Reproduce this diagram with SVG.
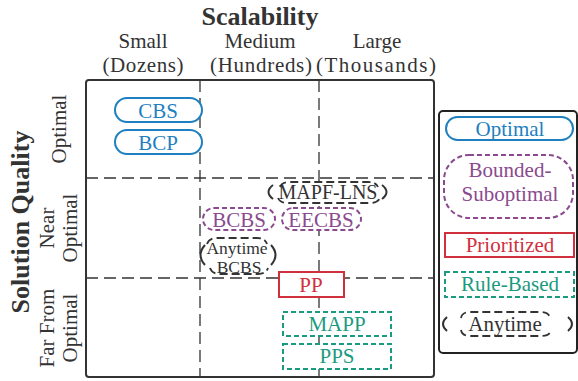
<svg xmlns="http://www.w3.org/2000/svg" width="578" height="381" viewBox="0 0 578 381">
<style>
text{font-family:"Liberation Serif","DejaVu Serif","Times New Roman",serif;font-size:21px;fill:#333;text-anchor:middle}
.b{font-weight:bold;font-size:26px;fill:#333}
.grid{stroke:#333;stroke-width:1.3;stroke-dasharray:12 6;fill:none}
.opt{fill:#fff;stroke:#1f7fbf;stroke-width:2}
.optt{fill:#1f7fbf}
.bs{fill:#fff;stroke:#8b4a8f;stroke-width:2;stroke-dasharray:5 3}
.bst{fill:#8b4a8f}
.pr{fill:#fff;stroke:#d0303d;stroke-width:2}
.prt{fill:#d0303d}
.rb{fill:#fff;stroke:#1a9a80;stroke-width:2;stroke-dasharray:5 3}
.rbt{fill:#1a9a80}
.any{fill:none;stroke:#333;stroke-width:1.8;stroke-dasharray:8 4}
.par{fill:none;stroke:#333;stroke-width:2}
</style>
<rect width="578" height="381" fill="#fff"/>
<text class="b" x="260" y="25">Scalability</text>
<text x="143" y="48">Small</text>
<text x="143" y="72" textLength="81" lengthAdjust="spacing">(Dozens)</text>
<text x="260" y="48">Medium</text>
<text x="261" y="72" textLength="102" lengthAdjust="spacing">(Hundreds)</text>
<text x="377" y="48">Large</text>
<text x="376" y="72" textLength="120" lengthAdjust="spacing">(Thousands)</text>
<text class="b" transform="translate(29,222) rotate(-90)">Solution Quality</text>
<text transform="translate(66,129) rotate(-90)">Optimal</text>
<text transform="translate(54,228) rotate(-90)">Near</text>
<text transform="translate(77,228) rotate(-90)">Optimal</text>
<text transform="translate(54,328) rotate(-90)">Far From</text>
<text transform="translate(77,328) rotate(-90)">Optimal</text>
<g id="connectors">
<rect x="86" y="80" width="348" height="297" rx="3" fill="none" stroke="#333" stroke-width="2"/>
<line class="grid" x1="200" y1="80" x2="200" y2="377"/>
<line class="grid" x1="319" y1="80" x2="319" y2="377"/>
<line class="grid" x1="86" y1="178" x2="434" y2="178"/>
<line class="grid" x1="86" y1="278" x2="434" y2="278"/>
</g>
<g id="CBS"><rect class="opt" x="115" y="98" width="87" height="24" rx="12"/><text class="optt" x="158" y="117.5">CBS</text></g>
<g id="BCP"><rect class="opt" x="115" y="130" width="87" height="24" rx="12"/><text class="optt" x="158" y="149.5">BCP</text></g>
<g id="MAPF-LNS"><rect x="276" y="183" width="104" height="19" fill="#fff"/>
<path class="any" d="M280,187 Q282,182 290,182 L368,182 Q376,182 378,187"/>
<path class="any" d="M278,198 Q280,203 288,203 L370,203 Q378,203 380,198"/>
<path class="par" d="M273,185 Q264,192 273,199"/><path class="par" d="M382,185 Q391,192 382,199"/>
<text x="328" y="199" style="font-size:20px">MAPF-LNS</text></g>
<g id="BCBS"><rect class="bs" x="203" y="208" width="72" height="22" rx="11"/><text class="bst" x="239" y="227">BCBS</text></g>
<g id="EECBS"><rect class="bs" x="282" y="208" width="79" height="22" rx="11"/><text class="bst" x="321" y="227">EECBS</text></g>
<g id="Anytime-BCBS"><rect x="205" y="240" width="64" height="33" fill="#fff"/>
<path class="any" d="M207,244 Q209,238 217,238 L257,238 Q265,238 267,244"/>
<path class="any" d="M210,268 Q212,274 220,274 L258,274 Q266,274 268,268"/>
<path class="par" d="M205,245 Q196,255 205,265"/><path class="par" d="M271,245 Q280,255 271,265"/>
<text x="237" y="254" style="font-size:17.5px">Anytime</text><text x="239" y="273" style="font-size:17.5px">BCBS</text></g>
<g id="PP"><rect class="pr" x="279" y="272" width="65" height="25"/><text class="prt" x="311" y="291.5">PP</text></g>
<g id="MAPP"><rect class="rb" x="283" y="312" width="108" height="24"/><text class="rbt" x="337" y="331">MAPP</text></g>
<g id="PPS"><rect class="rb" x="283" y="344" width="108" height="25"/><text class="rbt" x="337" y="363">PPS</text></g>
<g id="legend">
<rect x="439" y="111" width="138" height="242" rx="4" fill="#fff" stroke="#222" stroke-width="2"/>
<rect class="opt" x="446" y="117" width="127" height="23" rx="11.5"/><text class="optt" x="510" y="136">Optimal</text>
<rect class="bs" x="444" y="155" width="129" height="63" rx="25"/><text class="bst" x="510" y="177">Bounded-</text><text class="bst" x="510" y="201">Suboptimal</text>
<rect class="pr" x="445" y="233" width="129" height="24"/><text class="prt" x="510" y="252">Prioritized</text>
<rect class="rb" x="445" y="272" width="129" height="25"/><text class="rbt" x="510" y="291">Rule-Based</text>
<path class="any" d="M461,318 Q462,312 470,312 L540,312 Q549,312 550,318"/>
<path class="any" d="M461,330 Q462,336 470,336 L541,336 Q550,336 551,330"/>
<path class="par" d="M447,317 Q439,324 447,331"/><path class="par" d="M568,317 Q576,324 568,331"/>
<text x="505" y="331">Anytime</text>
</g>
</svg>
